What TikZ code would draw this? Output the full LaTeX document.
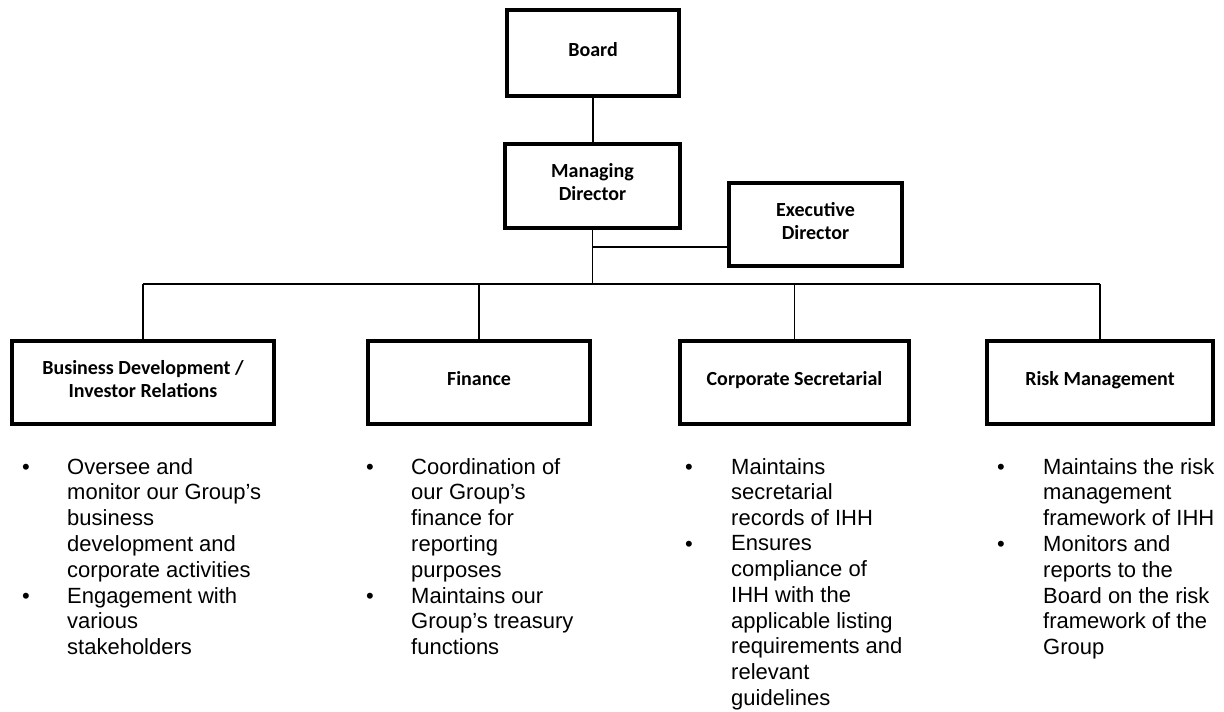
\documentclass[tikz,border=0pt]{standalone}
\usepackage{fontspec}
\setmainfont{Liberation Sans}
\newfontfamily\boxfont{Carlito}
\usepackage{tikz}
\usetikzlibrary{positioning}

\begin{document}
\begin{tikzpicture}[x=1pt,y=1pt,yscale=-1,
  unitbox/.style={draw, line width=3.5pt, align=center, minimum height=84pt, text depth=8pt, font=\boxfont\bfseries\fontsize{20}{23}\selectfont},
  link/.style={line width=1.3pt},
  duty/.style={anchor=north west, align=left, inner sep=0pt, font=\fontsize{22}{25.8}\selectfont},
  dot/.style={anchor=base, inner sep=0pt, font=\fontsize{22}{25.8}\selectfont}]
  \useasboundingbox (0,0) rectangle (1224,712);

  %Shape: Boxes
  \node[unitbox, minimum width=172pt, minimum height=86pt] (board) at (593,53) {Board};
  \node[unitbox, minimum width=175pt] (md) at (592.5,186) {Managing\\Director};
  \node[unitbox, minimum width=173pt, minimum height=83pt] (exec) at (815.5,224.5) {Executive\\Director};
  \node[unitbox, minimum width=262pt, minimum height=83pt] (bizdev) at (143,382.5) {Business Development /\\Investor Relations};
  \node[unitbox, minimum width=222pt, minimum height=83pt] (finance) at (479,382.5) {Finance};
  \node[unitbox, minimum width=229pt, minimum height=83pt] (cosec) at (794.5,382.5) {Corporate Secretarial};
  \node[unitbox, minimum width=226pt, minimum height=83pt] (risk) at (1100,382.5) {Risk Management};

  %Straight Lines
  \coordinate (tap) at (592,247);
  \coordinate (bus) at (592,284);
  \draw[link] (board.south) -- (board.south |- md.north);
  \draw[link] (md.south) -- (md.south |- bus);
  \draw[link] (md.south |- tap) -- (tap -| exec.west);
  \draw[link] (bizdev.north |- bus) -- (risk.north |- bus);
  \foreach \unit in {bizdev,finance,cosec,risk}
    \draw[link] (\unit.north |- bus) -- (\unit.north);

  % Text Node
  \node[dot] (bizdevdot1) at (26,474) {\textbullet};
  \node[duty] (bizdevduty1) at (67,458) {Oversee and\\monitor our Group's\\business\\development and\\corporate activities};
  \node[dot] (bizdevdot2) at (26,603) {\textbullet};
  \node[duty] (bizdevduty2) at (67,587) {Engagement with\\various\\stakeholders};
  % Text Node
  \node[dot] (financedot1) at (370,474) {\textbullet};
  \node[duty] (financeduty1) at (411,458) {Coordination of\\our Group's\\finance for\\reporting\\purposes};
  \node[dot] (financedot2) at (370,603) {\textbullet};
  \node[duty] (financeduty2) at (411,587) {Maintains our\\Group's treasury\\functions};
  % Text Node
  \node[dot] (cosecdot1) at (689,474) {\textbullet};
  \node[duty] (cosecduty1) at (731,458) {Maintains\\secretarial\\records of IHH};
  \node[dot] (cosecdot2) at (689,551.4) {\textbullet};
  \node[duty] (cosecduty2) at (731,535.4) {Ensures\\compliance of\\IHH with the\\applicable listing\\requirements and\\relevant\\guidelines};
  % Text Node
  \node[dot] (riskdot1) at (1001,474) {\textbullet};
  \node[duty] (riskduty1) at (1043,458) {Maintains the risk\\management\\framework of IHH};
  \node[dot] (riskdot2) at (1001,551.4) {\textbullet};
  \node[duty] (riskduty2) at (1043,535.4) {Monitors and\\reports to the\\Board on the risk\\framework of the\\Group};
\end{tikzpicture}
\end{document}
